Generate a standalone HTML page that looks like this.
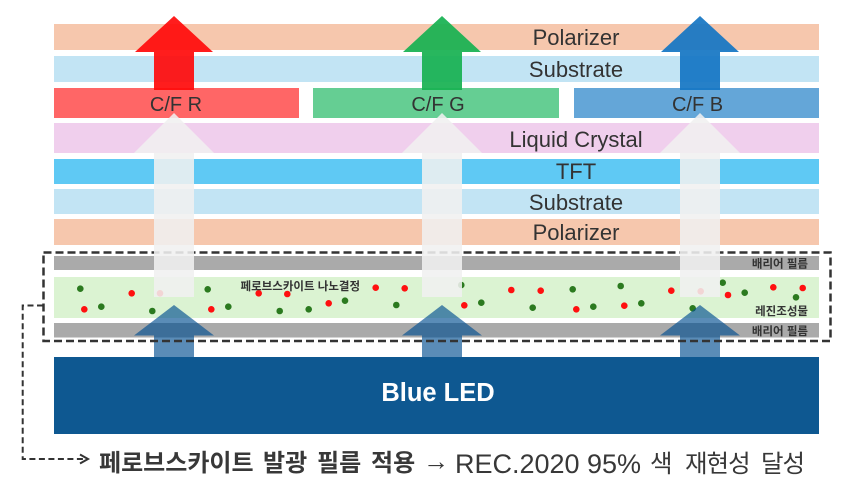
<!DOCTYPE html>
<html>
<head>
<meta charset="utf-8">
<style>
  html,body{margin:0;padding:0;background:#fff;}
  svg{display:block;}
  .lab{font-family:"Liberation Sans","Noto Sans CJK KR",sans-serif;fill:#333;}
  .kr{font-family:"Liberation Sans","Noto Sans CJK KR",sans-serif;}
</style>
</head>
<body>
<svg width="847" height="496" viewBox="0 0 847 496" xmlns="http://www.w3.org/2000/svg">
  <rect x="0" y="0" width="847" height="496" fill="#ffffff"/>

  <!-- layers -->
  <rect x="54" y="24" width="765" height="26" fill="#f6c7ad"/>
  <rect x="54" y="56" width="765" height="26" fill="#c2e4f4"/>
  <rect x="54" y="88" width="245" height="30" fill="#ff6666"/>
  <rect x="313" y="88" width="246" height="30" fill="#65ce93"/>
  <rect x="574" y="88" width="245" height="30" fill="#64a6d8"/>
  <rect x="54" y="123" width="765" height="30" fill="#f0cfed"/>
  <rect x="54" y="159" width="765" height="25" fill="#5fc9f4"/>
  <rect x="54" y="189" width="765" height="25" fill="#c2e4f4"/>
  <rect x="54" y="219" width="765" height="26" fill="#f6c7ad"/>

  <rect x="54" y="256" width="765" height="14" fill="#aaaaaa"/>
  <rect x="54" y="277" width="765" height="41" fill="#dbf3d2"/>
  <rect x="54" y="323" width="765" height="14.5" fill="#aaaaaa"/>

  <rect x="54" y="357" width="765" height="77" fill="#0e5891"/>

  <!-- dots -->
  <g fill="#2b7a1f">
    <circle cx="80.3" cy="288.7" r="3.3"/>
    <circle cx="207.7" cy="289.3" r="3.3"/>
    <circle cx="101.3" cy="306.7" r="3.3"/>
    <circle cx="152.3" cy="311" r="3.3"/>
    <circle cx="228.3" cy="306.7" r="3.3"/>
    <circle cx="279.7" cy="311" r="3.3"/>
    <circle cx="308.7" cy="309.3" r="3.3"/>
    <circle cx="345" cy="300.7" r="3.3"/>
    <circle cx="396.3" cy="305" r="3.3"/>
    <circle cx="461.3" cy="285" r="3.3"/>
    <circle cx="572.7" cy="289.3" r="3.3"/>
    <circle cx="620.7" cy="286" r="3.3"/>
    <circle cx="722.7" cy="282.7" r="3.3"/>
    <circle cx="744.7" cy="292.7" r="3.3"/>
    <circle cx="481.3" cy="302.7" r="3.3"/>
    <circle cx="532.7" cy="307.7" r="3.3"/>
    <circle cx="593.3" cy="306.7" r="3.3"/>
    <circle cx="641.3" cy="303.3" r="3.3"/>
    <circle cx="692.7" cy="308.3" r="3.3"/>
    <circle cx="796" cy="297.3" r="3.3"/>
  </g>
  <g fill="#ff1010">
    <circle cx="131.7" cy="293.3" r="3.3"/>
    <circle cx="160" cy="293.3" r="3.3"/>
    <circle cx="258.7" cy="293.3" r="3.3"/>
    <circle cx="287.3" cy="294" r="3.3"/>
    <circle cx="375.7" cy="287.7" r="3.3"/>
    <circle cx="404.7" cy="288.3" r="3.3"/>
    <circle cx="84.3" cy="309.3" r="3.3"/>
    <circle cx="211.3" cy="309.3" r="3.3"/>
    <circle cx="328.7" cy="303.3" r="3.3"/>
    <circle cx="511.3" cy="290" r="3.3"/>
    <circle cx="540.7" cy="290.7" r="3.3"/>
    <circle cx="671.3" cy="290.7" r="3.3"/>
    <circle cx="700.7" cy="291.3" r="3.3"/>
    <circle cx="728" cy="295" r="3.3"/>
    <circle cx="773.3" cy="287.3" r="3.3"/>
    <circle cx="802.7" cy="288" r="3.3"/>
    <circle cx="464.3" cy="305.3" r="3.3"/>
    <circle cx="576.3" cy="309.3" r="3.3"/>
    <circle cx="624.3" cy="305.7" r="3.3"/>
  </g>

  <!-- nanocrystal label -->
  <text x="240.5" y="290" class="kr" font-size="11.5" font-weight="bold" fill="#333">페로브스카이트 나노결정</text>

  <!-- small right labels -->
  <text x="808" y="267.5" class="kr" font-size="11.5" font-weight="bold" fill="#333" text-anchor="end">배리어 필름</text>
  <text x="808" y="315" class="kr" font-size="11.5" font-weight="bold" fill="#333" text-anchor="end">레진조성물</text>
  <text x="808" y="335" class="kr" font-size="11.5" font-weight="bold" fill="#333" text-anchor="end">배리어 필름</text>

  <!-- bottom blue arrows -->
  <g fill="rgba(2,78,145,0.65)">
    <polygon points="174,305 214,335.5 194,335.5 194,357 154,357 154,335.5 134,335.5"/>
    <polygon points="442,305 482,335.5 462,335.5 462,357 422,357 422,335.5 402,335.5"/>
    <polygon points="700,305 740,335.5 720,335.5 720,357 680,357 680,335.5 660,335.5"/>
  </g>

  <!-- dashed box -->
  <rect x="43.5" y="252.5" width="787" height="88.5" fill="none" stroke="#333" stroke-width="2.5" stroke-dasharray="8 4"/>

  <!-- dashed connector -->
  <path d="M43 305.5 H22.7 V459 H84" fill="none" stroke="#333" stroke-width="2" stroke-dasharray="6 3.5"/>
  <polyline points="80,454.5 88,459 80,463.5" fill="none" stroke="#333" stroke-width="2"/>

  <!-- light arrows -->
  <g fill="rgba(240,240,240,0.88)">
    <polygon points="174,113 214,153 194,153 194,297 154,297 154,153 134,153"/>
    <polygon points="442,113 482,153 462,153 462,297 422,297 422,153 402,153"/>
    <polygon points="700,113 740,153 720,153 720,297 680,297 680,153 660,153"/>
  </g>

  <!-- top colored arrows -->
  <polygon points="174,16 213,52 194,52 194,90 154,90 154,52 135,52" fill="rgba(255,10,10,0.92)"/>
  <polygon points="442,16 481,52 462,52 462,90 422,90 422,52 403,52" fill="rgba(24,178,82,0.93)"/>
  <polygon points="700,16 739,52 720,52 720,90 680,90 680,52 661,52" fill="rgba(22,118,196,0.93)"/>

  <!-- layer labels -->
  <g class="lab" font-size="22" text-anchor="middle">
    <text x="576" y="45">Polarizer</text>
    <text x="576" y="77">Substrate</text>
    <text x="576" y="147">Liquid Crystal</text>
    <text x="576" y="179">TFT</text>
    <text x="576" y="210">Substrate</text>
    <text x="576" y="240">Polarizer</text>
  </g>
  <g class="lab" font-size="20" text-anchor="middle">
    <text x="176" y="111">C/F R</text>
    <text x="438" y="111">C/F G</text>
    <text x="697.5" y="111">C/F B</text>
  </g>

  <!-- Blue LED -->
  <text x="438" y="401" class="lab" font-size="25.5" font-weight="bold" style="fill:#ffffff" text-anchor="middle">Blue LED</text>

  <!-- bottom caption -->
  <g class="kr" fill="#383838">
    <text x="99" y="471" font-size="24" font-weight="bold">페로브스카이트</text>
    <text x="263" y="471" font-size="24" font-weight="bold">발광</text>
    <text x="317" y="471" font-size="24" font-weight="bold">필름</text>
    <text x="371" y="471" font-size="24" font-weight="bold">적용</text>
    <text x="423" y="470" font-size="26">→</text>
    <text x="455" y="473" font-size="27">REC.2020</text>
    <text x="587" y="473" font-size="27">95%</text>
    <text x="650" y="472" font-size="24.5" letter-spacing="-1">색</text>
    <text x="685" y="472" font-size="24.5" letter-spacing="-1">재현성</text>
    <text x="761" y="472" font-size="24.5" letter-spacing="-1">달성</text>
  </g>
</svg>
</body>
</html>
